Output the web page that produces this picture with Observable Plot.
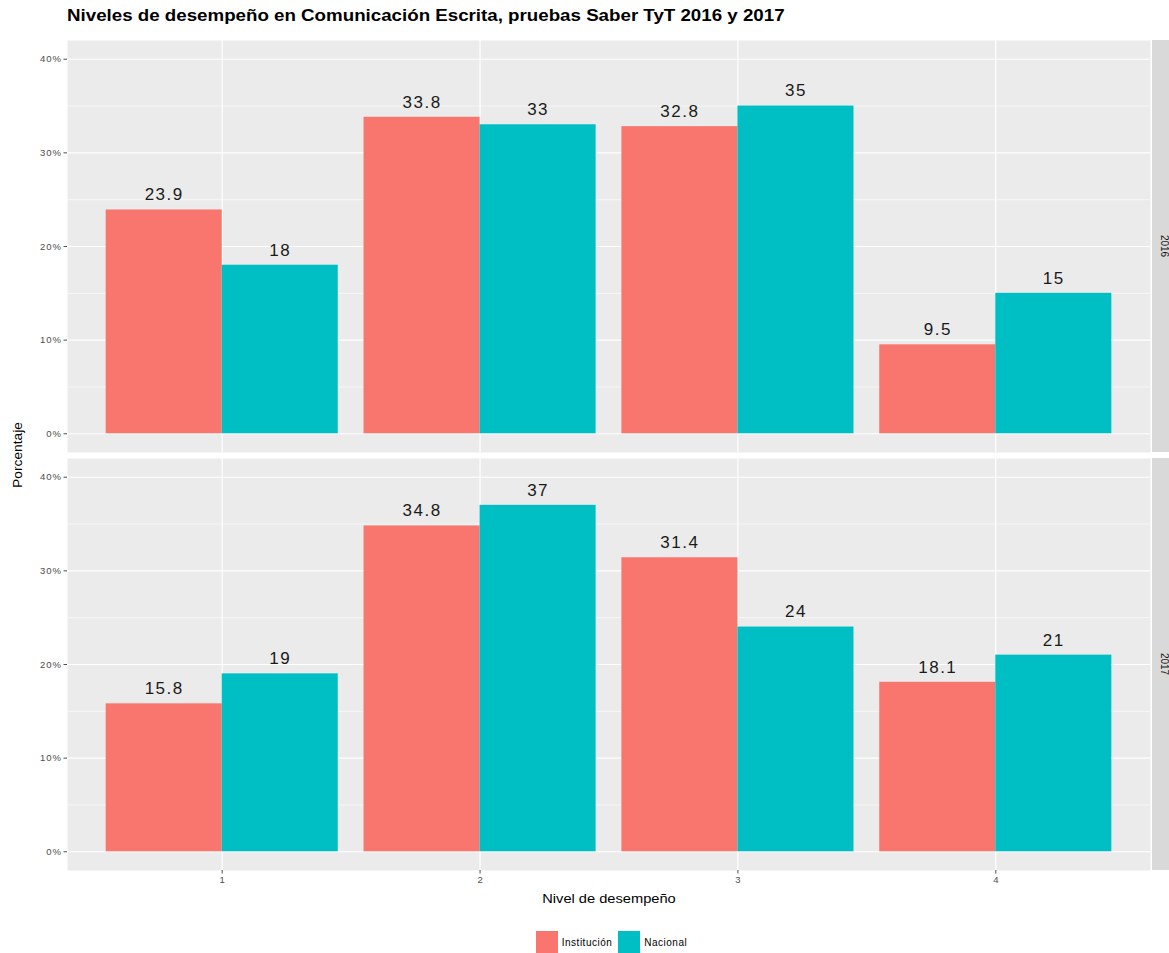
<!DOCTYPE html>
<html>
<head>
<meta charset="utf-8">
<script src="https://cdn.jsdelivr.net/npm/d3@7"></script>
<script src="https://cdn.jsdelivr.net/npm/@observablehq/plot@0.6"></script>
<style>
  html, body { margin: 0; padding: 0; background: #fff; }
  #wrap { position: relative; width: 1169px; height: 953px; overflow: hidden; font-family: "Liberation Sans", Arial, sans-serif; }
  #title { position: absolute; left: 67px; top: 7px; font-size: 16px; font-weight: bold; color: #000; white-space: nowrap; transform: scaleX(1.17); transform-origin: 0 0; }
  #chart { position: absolute; left: 0; top: 32px; }
  #ylab { position: absolute; left: 18px; top: 455px; transform: translate(-50%, -50%) rotate(-90deg) scaleX(1.15); font-size: 12px; color: #000; white-space: nowrap; }
  #xlab { position: absolute; left: 609px; top: 899px; transform: translate(-50%, -50%) scaleX(1.22); font-size: 12px; color: #000; white-space: nowrap; }
  #legend { position: absolute; left: 0; width: 1223px; top: 931px; display: flex; justify-content: center; align-items: center; font-size: 10px; color: #000; letter-spacing: 0.5px; }
  .key { width: 22px; height: 22px; margin-right: 4px; }
  .item { display: flex; align-items: center; margin: 0 3px; }
</style>
</head>
<body>
<div id="wrap">
  <div id="title">Niveles de desempeño en Comunicación Escrita, pruebas Saber TyT 2016 y 2017</div>
  <div id="chart"></div>
  <div id="ylab">Porcentaje</div>
  <div id="xlab">Nivel de desempeño</div>
  <div id="legend"></div>
</div>
<script>
const levels = [1, 2, 3, 4];
const years = ["2016", "2017"];
const groups = ["Institución", "Nacional"];
const colors = ["#F8766D", "#00BFC4"];
const institucion2016 = [23.9, 33.8, 32.8, 9.5];
const nacional2016 = [18, 33, 35, 15];
const institucion2017 = [15.8, 34.8, 31.4, 18.1];
const nacional2017 = [19, 37, 24, 21];
const yTicks = [0, 10, 20, 30, 40];
const yMinor = [5, 15, 25, 35];

const series = {
  "2016": [institucion2016, nacional2016],
  "2017": [institucion2017, nacional2017]
};
const rows = [];
for (const yr of years) {
  groups.forEach((g, gi) => {
    levels.forEach((lv, li) => {
      const v = series[yr][gi][li];
      rows.push({
        year: yr, group: g, level: lv, value: v,
        x1: gi === 0 ? lv - 0.45 : lv,
        x2: gi === 0 ? lv : lv + 0.45,
        xm: gi === 0 ? lv - 0.225 : lv + 0.225
      });
    });
  });
}

const W = 1169, H = 888, mL = 67, mR = 19, mT = 8, mB = 50;
const chart = Plot.plot({
  width: W, height: H,
  marginLeft: mL, marginRight: mR, marginTop: mT, marginBottom: mB,
  style: { fontFamily: "Liberation Sans, Arial, sans-serif", background: "transparent" },
  x: { domain: [0.4, 4.6], axis: null },
  y: { domain: [-2, 42], axis: null },
  fy: { domain: years, axis: null, padding: 0.0144 },
  color: { domain: groups, range: colors },
  marks: [
    Plot.frame({ fill: "#EBEBEB", stroke: "none" }),
    Plot.gridY(yMinor, { stroke: "#fff", strokeOpacity: 1, strokeWidth: 0.6 }),
    Plot.gridY(yTicks, { stroke: "#fff", strokeOpacity: 1, strokeWidth: 1.2 }),
    Plot.gridX(levels, { stroke: "#fff", strokeOpacity: 1, strokeWidth: 1.2 }),
    Plot.rectY(rows, { fy: "year", x1: "x1", x2: "x2", y1: 0, y2: "value", fill: "group" }),
    Plot.text(rows, { fy: "year", x: "xm", y: "value", text: d => String(d.value), dy: -15, lineAnchor: "middle", fontSize: 17, fill: "#1a1a1a", className: "vlab" }),
    Plot.axisY({ ticks: yTicks, tickFormat: d => d + "%", tickSize: 3.5, tickPadding: 2, fontSize: 9.5, color: "#4d4d4d", label: null, className: "ytk" }),
    Plot.axisX({ ticks: levels, tickFormat: d => String(d), tickSize: 3.5, tickPadding: 2, fontSize: 9.5, color: "#4d4d4d", label: null })
  ]
});
document.getElementById("chart").appendChild(chart);

const svg = d3.select(chart);
svg.selectAll(".vlab text").attr("letter-spacing", "1.5px");
svg.selectAll(".ytk text").attr("letter-spacing", "1px");

// facet strips on the right
const fy = chart.scale("fy");
const stripG = svg.append("g");
for (const yr of years) {
  const y0 = fy.apply(yr);
  const bw = fy.bandwidth;
  stripG.append("rect").attr("x", W - mR + 2).attr("y", y0).attr("width", 40).attr("height", bw).attr("fill", "#D9D9D9");
  stripG.append("text").attr("transform", `translate(${W - mR + 14},${y0 + bw / 2}) rotate(90)`)
    .attr("text-anchor", "middle").attr("dominant-baseline", "middle")
    .attr("font-size", 10).attr("fill", "#1a1a1a").text(yr);
}

// legend
const leg = document.getElementById("legend");
groups.forEach((g, i) => {
  const it = document.createElement("div");
  it.className = "item";
  const k = document.createElement("div");
  k.className = "key";
  k.style.background = colors[i];
  it.appendChild(k);
  const t = document.createElement("span");
  t.textContent = g;
  it.appendChild(t);
  leg.appendChild(it);
});
</script>
</body>
</html>
